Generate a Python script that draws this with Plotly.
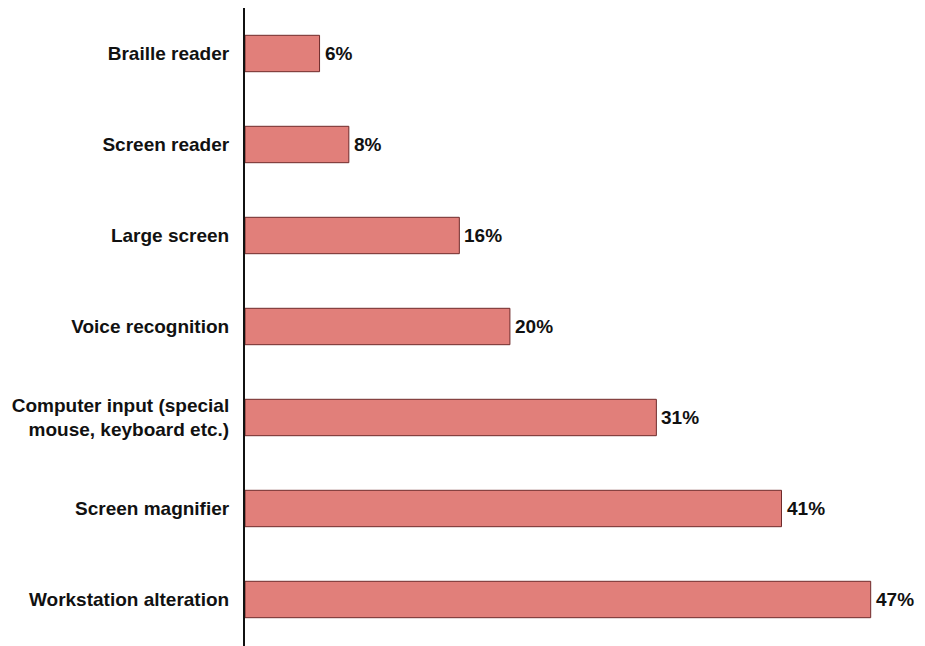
import plotly.graph_objects as go

categories = [
    "Braille reader",
    "Screen reader",
    "Large screen",
    "Voice recognition",
    "Computer input (special<br>mouse, keyboard etc.)",
    "Screen magnifier",
    "Workstation alteration",
]
values = [5.6, 7.8, 16.1, 19.9, 30.9, 40.3, 47.0]
value_labels = ["6%", "8%", "16%", "20%", "31%", "41%", "47%"]

FONT = "Liberation Sans"
FS = 19

fig = go.Figure(
    go.Bar(
        y=categories,
        x=values,
        orientation="h",
        width=0.4,
        marker=dict(color="#E17F7A", line=dict(color="#6E2B2B", width=1)),
        hoverinfo="skip",
    )
)

for cat, val, lab in zip(categories, values, value_labels):
    fig.add_annotation(
        x=val,
        y=cat,
        text=lab,
        showarrow=False,
        xanchor="left",
        yanchor="middle",
        xshift=3,
        font=dict(family=FONT, size=FS, color="#111111", weight="bold"),
    )

fig.update_layout(
    width=917,
    height=638,
    margin=dict(l=237, r=33, t=0, b=0, autoexpand=False),
    paper_bgcolor="white",
    plot_bgcolor="white",
    showlegend=False,
    font=dict(family=FONT, size=FS, color="#111111"),
)
fig.update_xaxes(range=[0, 48.6], visible=False, showgrid=False, zeroline=False)
fig.update_yaxes(
    range=[6.511, -0.5],
    automargin=False,
    showline=True,
    linecolor="#111111",
    linewidth=2,
    showgrid=False,
    zeroline=False,
    ticks="",
    ticklabelstandoff=10,
    tickfont=dict(family=FONT, size=FS, color="#111111", weight="bold"),
)

fig.write_html("out.html")
